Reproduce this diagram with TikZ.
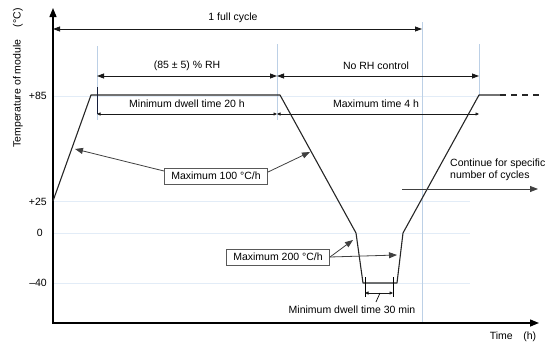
\documentclass[tikz,border=0pt]{standalone}
\usepackage{fontspec}
\setmainfont{Liberation Sans}
\usetikzlibrary{arrows.meta}
\definecolor{gridblue}{RGB}{226,236,247}
\definecolor{guideblue}{RGB}{188,208,230}
\definecolor{tickdark}{RGB}{20,30,60}
\begin{document}
\begin{tikzpicture}[x=1pt,y=-1pt, font=\fontsize{10.5}{12.5}\selectfont,
 axis/.style={line width=1.4pt, {Triangle[length=9pt,width=7pt]}-{Triangle[length=9pt,width=7pt]}},
 curve/.style={line width=1.1pt, black!85, line join=round},
 dimbig/.style={line width=0.8pt, black!90, {Triangle[length=7pt,width=5pt]}-{Triangle[length=7pt,width=5pt]}},
 dimsmall/.style={line width=0.7pt, black!90, {Triangle[length=3.5pt,width=3pt]}-{Triangle[length=3.5pt,width=3pt]}},
 gridline/.style={draw=gridblue, line width=0.8pt},
 guide/.style={draw=guideblue, line width=0.8pt},
 lbl/.style={inner sep=1pt},
 box/.style={draw=black!65, line width=0.7pt, fill=white, inner xsep=7pt, inner ysep=4pt},
 leader/.style={line width=0.8pt, black!75, -{Triangle[length=8pt,width=6pt]}}]

\useasboundingbox (0,0) rectangle (547,348);

% grid lines
\draw[gridline] (53,96) -- (480,96);
\draw[gridline] (53,201) -- (470,201);
\draw[gridline] (53,233) -- (470,233);
\draw[gridline] (53,283) -- (470,283);

% vertical guides
\draw[guide] (97,46) -- (97,120);
\draw[guide] (277,44) -- (277,120);
\draw[guide] (422,22) -- (422,323);
\draw[guide] (479,44) -- (479,96);

% axes
\coordinate (ytop) at (53,8);
\coordinate (orig) at (53,323);
\coordinate (xend) at (539,323);
\draw[axis] (ytop) -- (orig) -- (xend);

% temperature profile
\coordinate (c0) at (53,201);
\coordinate (c1) at (91,95);
\coordinate (c2) at (280,95);
\coordinate (c3) at (356,233);
\coordinate (c4) at (363,283);
\coordinate (c5) at (397,283);
\coordinate (c6) at (403,233);
\coordinate (c7) at (479,95);
\coordinate (c8) at (500,95);
\coordinate (c9) at (542,95);
\draw[curve] (c0) -- (c1) -- (c2) -- (c3) -- (c4) -- (c5) -- (c6) -- (c7) -- (c8);
\draw[curve, dash pattern=on 6pt off 5pt] (c8) -- (c9);

% y labels
\node[lbl, anchor=east] (l85) at (48,96) {+85};
\node[lbl, anchor=east] (l25) at (48,202) {+25};
\node[lbl, anchor=east] (l0) at (44,233) {0};
\node[lbl, anchor=east] (l40) at (48,283) {–40};
\node[lbl, rotate=90] (ytitle) at (18,78) {Temperature of module\hspace{1.2em}(°C)};
\node[lbl] (xtitle) at (513,337) {Time\hspace{1em}(h)};

% dimension lines
\coordinate (f0) at (53,29);
\coordinate (f1) at (422,29);
\draw[dimbig] (f0) -- (f1);
\node[lbl] (tfull) at (233,18) {1 full cycle};

\coordinate (r0) at (97,76);
\coordinate (r1) at (277,76);
\coordinate (r2) at (479,76);
\draw[dimbig] (r0) -- (r1);
\draw[dimbig] (r1) -- (r2);
\node[lbl] (trh) at (187,66) {(85 ± 5) \% RH};
\node[lbl] (tnorh) at (376,66) {No RH control};

\coordinate (tk0) at (97,87);
\coordinate (tk1) at (97,114);
\draw[line width=0.9pt, tickdark] (tk0) -- (tk1);

\coordinate (d0) at (97,114);
\coordinate (d1) at (277,114);
\coordinate (d2) at (479,114);
\draw[dimsmall] (d0) -- (d1);
\draw[dimsmall] (d1) -- (d2);
\node[lbl] (tdw) at (187,104) {Minimum dwell time 20 h};
\node[lbl] (tmax4) at (376,104) {Maximum time 4 h};

% rate boxes
\node[box] (b100) at (216,176) {Maximum 100 °C/h};
\coordinate (a100l) at (75,149);
\coordinate (a100r) at (310,152);
\draw[leader] ([yshift=5pt]b100.west) -- (a100l);
\draw[leader] ([yshift=4pt]b100.east) -- (a100r);

\node[box] (b200) at (278,257) {Maximum 200 °C/h};
\coordinate (a200a) at (353,240);
\coordinate (a200b) at (397,255);
\draw[leader] (b200.east) -- (a200a);
\draw[leader] (b200.east) -- (a200b);

% dwell 30 min
\coordinate (m0t) at (365,277);
\coordinate (m0b) at (365,297);
\coordinate (m1t) at (393,277);
\coordinate (m1b) at (393,297);
\draw[line width=0.7pt] (m0t) -- (m0b);
\draw[line width=0.7pt] (m1t) -- (m1b);
\coordinate (m0) at (365,293);
\coordinate (m1) at (393,293);
\draw[dimsmall] (m0) -- (m1);
\node[lbl] (t30) at (352,310) {Minimum dwell time 30 min};
\coordinate (s0) at (376,302);
\coordinate (s1) at (380,293);
\draw[line width=0.7pt] (s0) -- (s1);

% continue
\node[lbl, anchor=west, align=left] (tcont) at (449,170) {Continue for specific\\number of cycles};
\coordinate (k0) at (402,189);
\coordinate (k1) at (538,189);
\draw[leader] (k0) -- (k1);

\end{tikzpicture}
\end{document}
